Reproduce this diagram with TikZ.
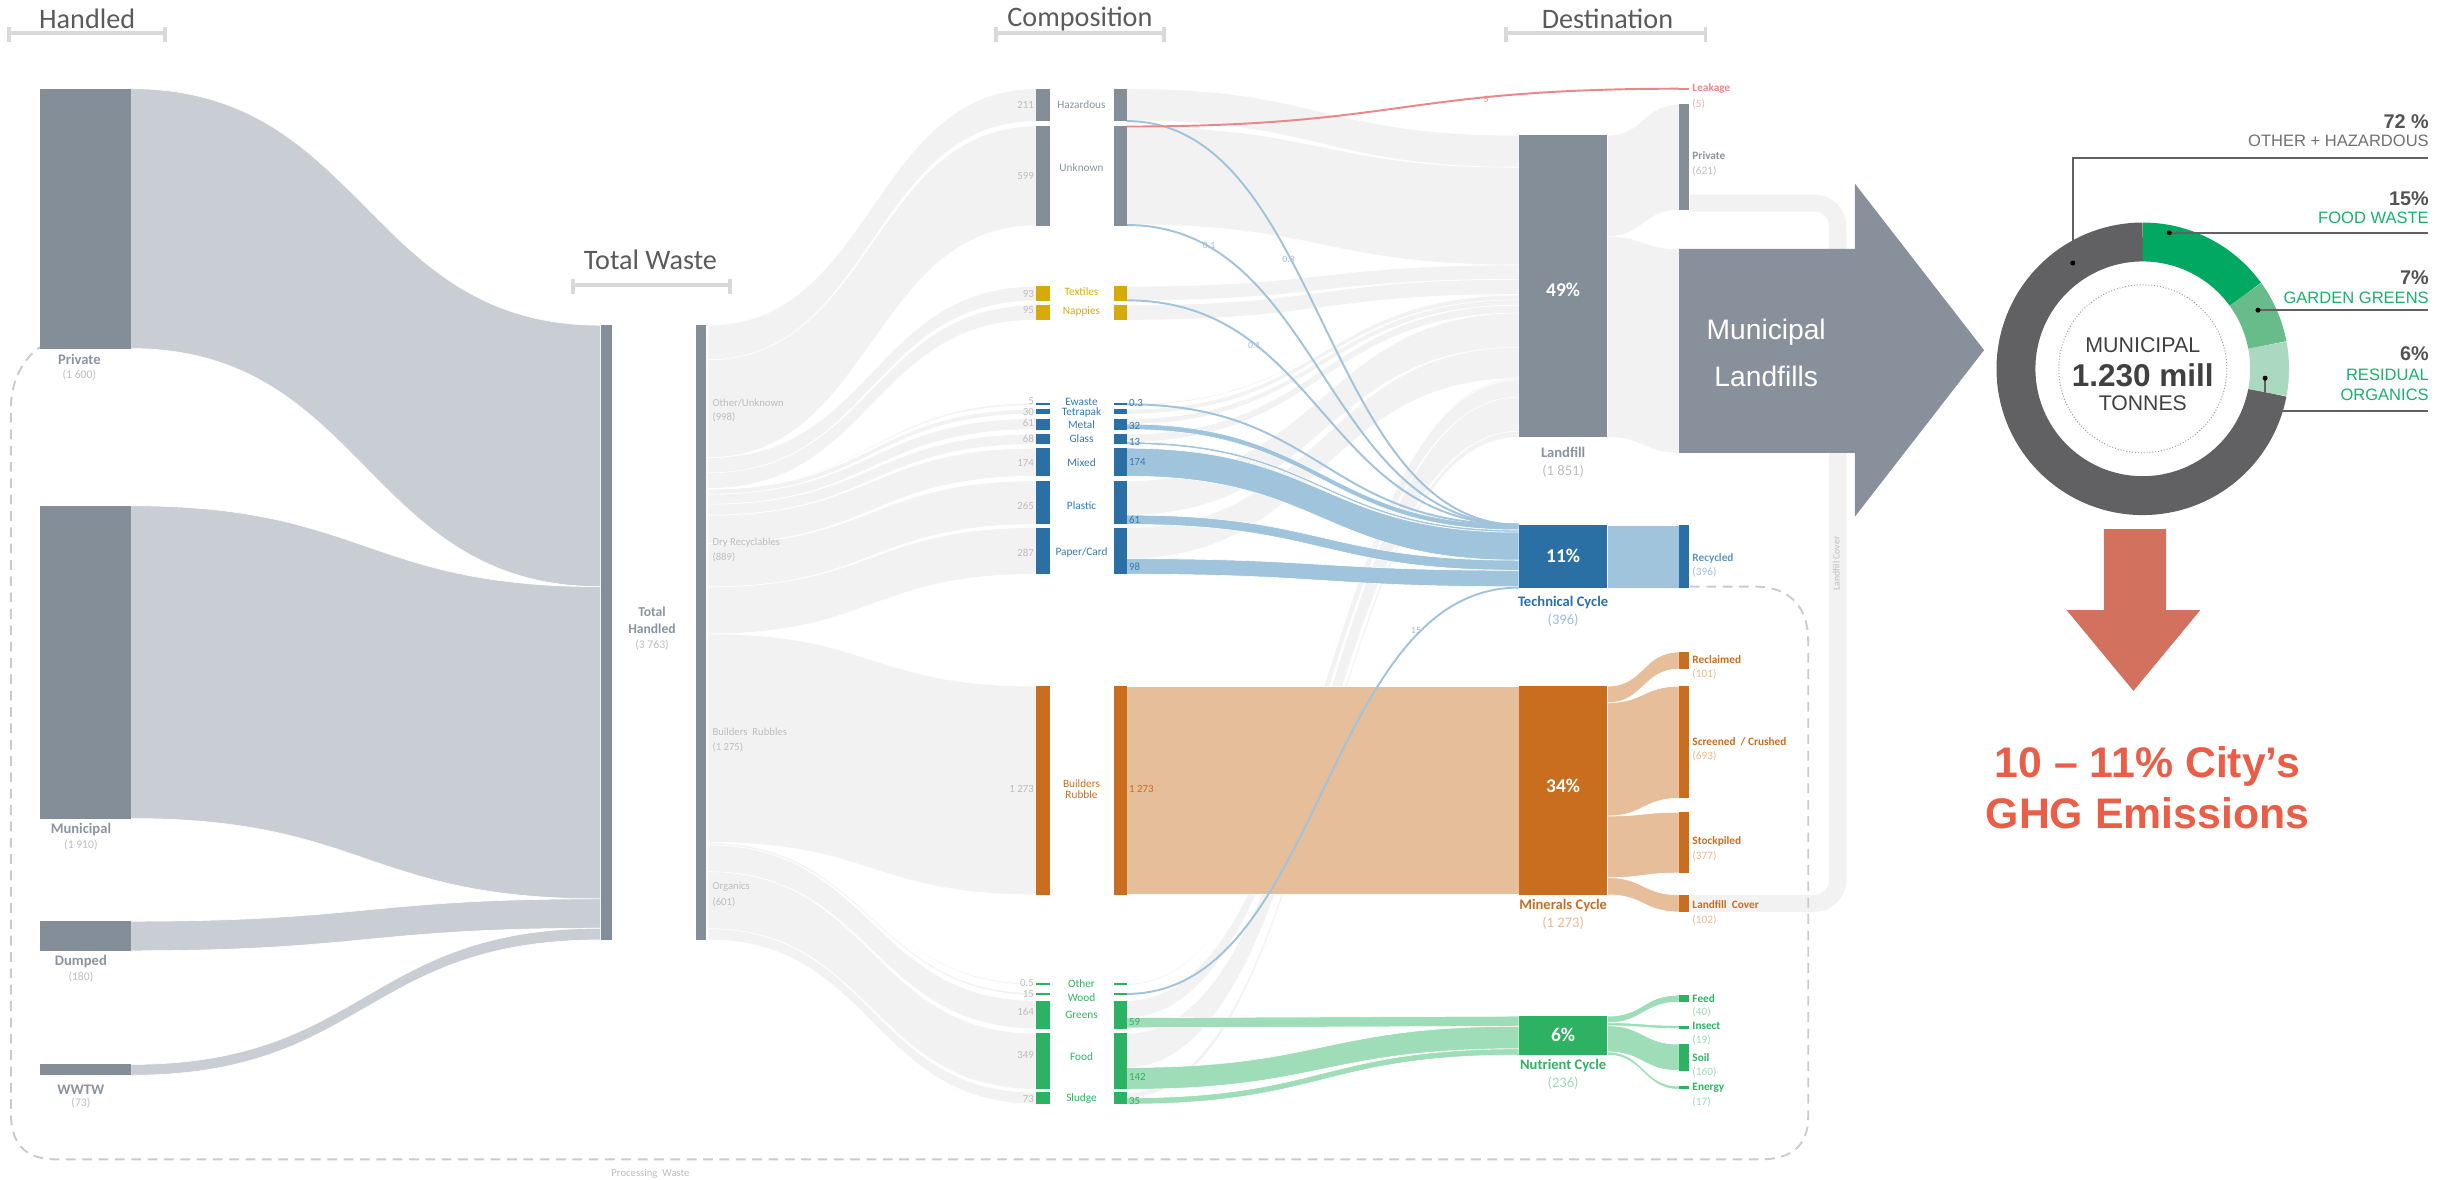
\documentclass[tikz,border=0pt]{standalone}
\usepackage{fontspec}
\setmainfont{Carlito}
\newfontfamily\arialfont{Liberation Sans}
\usepackage{tikz}
\usetikzlibrary{positioning}
\usepackage{xcolor}
\definecolor{slate}{HTML}{848E99}
\definecolor{slatetext}{HTML}{8A949E}
\definecolor{handledflow}{HTML}{C9CED4}
\definecolor{flowlight}{HTML}{F2F2F2}
\definecolor{valuegray}{HTML}{BDBDBD}
\definecolor{gold}{HTML}{D6AA0A}
\definecolor{techblue}{HTML}{2A70A4}
\definecolor{lightblue}{HTML}{A0C4DC}
\definecolor{bluetext}{HTML}{3479B1}
\definecolor{lightbluetext}{HTML}{9CBFDC}
\definecolor{orangebar}{HTML}{C96D1F}
\definecolor{lightorange}{HTML}{E6BE9A}
\definecolor{lightorangetext}{HTML}{E8B98F}
\definecolor{greenbar}{HTML}{2DB263}
\definecolor{lightgreen}{HTML}{9EDDB8}
\definecolor{lightgreentext}{HTML}{9ADBB5}
\definecolor{leakred}{HTML}{E8888A}
\definecolor{titlegray}{HTML}{5B5B5B}
\definecolor{bracketgray}{HTML}{D9D9D9}
\definecolor{dashgray}{HTML}{C8CCD1}
\definecolor{donutdark}{HTML}{616163}
\definecolor{donutfood}{HTML}{00A862}
\definecolor{donutgarden}{HTML}{67BC8A}
\definecolor{donutresid}{HTML}{ABD9BF}
\definecolor{arrowgray}{HTML}{87909B}
\definecolor{arrowred}{HTML}{D3715F}
\definecolor{ghgred}{HTML}{EA5E48}
\definecolor{donuttext}{HTML}{404040}
\definecolor{donutgreen}{HTML}{1BAF6D}
\tikzstyle{coltitle} = [font=\fontsize{14.5}{16}\selectfont, text=titlegray]
\tikzstyle{titlebar} = [line width=2pt, color=bracketgray]
\tikzstyle{srclabel} = [font=\fontsize{7.5}{8.8}\selectfont\bfseries, text=slatetext, inner sep=0.5pt]
\tikzstyle{srcvalue} = [font=\fontsize{6}{7}\selectfont, text=valuegray, inner sep=0.5pt]
\tikzstyle{totlabel} = [font=\fontsize{5.5}{6}\selectfont, text=valuegray, inner sep=0.5pt, anchor=west]
\tikzstyle{complabel} = [font=\fontsize{5.8}{6}\selectfont, inner sep=0.3pt]
\tikzstyle{compnum} = [font=\fontsize{5.6}{6}\selectfont, text=valuegray, inner sep=0.3pt, anchor=east]
\tikzstyle{flownum} = [font=\fontsize{5.6}{6}\selectfont, inner sep=0.3pt, anchor=west]
\tikzstyle{linenum} = [font=\fontsize{5}{6}\selectfont, text=lightbluetext, inner sep=0.3pt]
\tikzstyle{destlabel} = [font=\fontsize{5.8}{6}\selectfont\bfseries, inner sep=0.3pt, anchor=west]
\tikzstyle{destvalue} = [font=\fontsize{5.8}{6}\selectfont, inner sep=0.3pt, anchor=west]
\tikzstyle{cyclelabel} = [font=\fontsize{7.5}{8}\selectfont\bfseries, inner sep=0.5pt]
\tikzstyle{cyclevalue} = [font=\fontsize{7.5}{8}\selectfont, inner sep=0.5pt]
\tikzstyle{pct} = [font=\fontsize{10}{11}\selectfont\bfseries, text=white]
\tikzstyle{lightflow} = [fill=flowlight, draw=white, line width=0.3pt]
\tikzstyle{handled} = [fill=handledflow, draw=white, line width=0.3pt]
\tikzstyle{blueflow} = [fill=lightblue, draw=white, line width=0.3pt]
\tikzstyle{greenflow} = [fill=lightgreen, draw=white, line width=0.3pt]
\tikzstyle{orangeflow} = [fill=lightorange, draw=white, line width=0.3pt]
\tikzstyle{thinblue} = [draw=lightblue, line width=1pt]
\tikzstyle{donutlabel} = [font=\arialfont\fontsize{8.5}{9}\selectfont, inner sep=0pt, anchor=east]
\tikzstyle{donutpct} = [font=\arialfont\fontsize{10.2}{11}\selectfont\bfseries, text=donuttext!90, inner sep=0pt, anchor=east]
\tikzstyle{leader} = [draw=donutdark, line width=1pt]
\newcommand{\flowband}[7]{\fill[#7] (#1,#2) .. controls ({(#1+#4)/2},#2) and ({(#1+#4)/2},#5) .. (#4,#5) -- (#4,#6) .. controls ({(#1+#4)/2},#6) and ({(#1+#4)/2},#3) .. (#1,#3) -- cycle;}
\newcommand{\wastebar}[5]{\fill[#5] (#1,#2) rectangle (#3,#4);}

\begin{document}
\begin{tikzpicture}[x=0.8pt, y=-0.8pt]
\useasboundingbox (0,0) rectangle (1568,758);

% Column titles
\node[coltitle] (tHandled) at (56,12) {Handled};
\draw[titlebar] (6,17.5) -- (6,27) (6,21) -- (106,21) (106,17.5) -- (106,27);
\node[coltitle] (tTotal) at (418,167) {Total Waste};
\draw[titlebar] (368,179) -- (368,189) (368,183) -- (469,183) (469,179) -- (469,189);
\node[coltitle] (tComp) at (694,12) {Composition};
\draw[titlebar] (640,17.5) -- (640,27) (640,21) -- (748,21) (748,17.5) -- (748,27);
\node[coltitle] (tDest) at (1033,12) {Destination};
\draw[titlebar] (968,17.5) -- (968,27) (968,21) -- (1096,21) (1096,17.5) -- (1096,27);

% Landfill cover return band
\draw[draw=flowlight, line width=8.8pt, rounded corners=12pt] (1086,580.5) -- (1181,580.5) -- (1181,130.5) -- (1086,130.5);
\node[font=\fontsize{5}{6}\selectfont, text=valuegray, rotate=90] (lCoverBand) at (1180,362) {Landfill Cover};

% Total -> composition
\flowband{455}{209}{231.2}{666}{57}{78}{lightflow}
\flowband{455}{231.2}{294.1}{666}{81}{145}{lightflow}
\flowband{455}{294.1}{303.9}{666}{184}{193.3}{lightflow}
\flowband{455}{303.9}{313.9}{666}{196}{205.7}{lightflow}
\flowband{455}{313.9}{314.4}{666}{259}{260.5}{lightflow}
\flowband{455}{314.4}{317.6}{666}{263}{266}{lightflow}
\flowband{455}{317.6}{324}{666}{269}{276}{lightflow}
\flowband{455}{324}{331.1}{666}{279}{285.5}{lightflow}
\flowband{455}{331.1}{349.4}{666}{288}{306}{lightflow}
\flowband{455}{349.4}{377.2}{666}{309}{337}{lightflow}
\flowband{455}{377.2}{407.3}{666}{339}{369}{lightflow}
\flowband{455}{407.3}{541.3}{666}{441}{575}{lightflow}
\flowband{455}{541.3}{541.6}{666}{632}{633}{lightflow}
\flowband{455}{541.6}{543}{666}{638}{639.5}{lightflow}
\flowband{455}{543}{560.2}{666}{643}{661}{lightflow}
\flowband{455}{560.2}{596.8}{666}{664}{700}{lightflow}
\flowband{455}{596.8}{604}{666}{702}{709.5}{lightflow}

% Composition -> landfill
\flowband{724}{57}{77.5}{976}{87}{107.5}{lightflow}
\flowband{724}{81.5}{144.3}{976}{107.5}{170.3}{lightflow}
\flowband{724}{184}{193.2}{976}{170.3}{179.5}{lightflow}
\flowband{724}{196}{205.7}{976}{179.5}{189.2}{lightflow}
\flowband{724}{259.5}{260.5}{976}{189.2}{189.7}{lightflow}
\flowband{724}{263}{266}{976}{189.7}{192.7}{lightflow}
\flowband{724}{269}{272.5}{976}{192.7}{196.2}{lightflow}
\flowband{724}{279}{284}{976}{196.2}{201.2}{lightflow}
\flowband{724}{309}{331}{976}{201.2}{223.2}{lightflow}
\flowband{724}{339}{359}{976}{223.2}{243.2}{lightflow}
\flowband{724}{632}{633}{976}{243.2}{244.2}{lightflow}
\flowband{724}{643}{654}{976}{244.2}{255.2}{lightflow}
\flowband{724}{664}{686}{976}{255.2}{277.2}{lightflow}
\flowband{724}{702}{705.5}{976}{277.2}{281}{lightflow}

% Landfill -> private / municipal
\flowband{1033}{87}{152}{1079}{67}{135}{lightflow}
\flowband{1033}{152}{281}{1079}{160}{291}{lightflow}

% Processing waste loop
\draw[dashgray, line width=1pt, dash pattern=on 5pt off 3.4pt] (1086,377) -- (1128,377) .. controls (1150,377) and (1162,390) .. (1162,412) -- (1162,718) .. controls (1162,737) and (1150,745) .. (1132,745) -- (36,745) .. controls (16,745) and (7,735) .. (7,715) -- (7,262) .. controls (7,245) and (15,230) .. (26,223);
\node[font=\fontsize{5.5}{6}\selectfont, text=valuegray] (lProc) at (418,754.5) {Processing~~Waste};

% Handled -> total
\flowband{84}{57}{224}{386}{209}{377}{handled}
\flowband{84}{325}{526}{386}{377}{577.6}{handled}
\flowband{84}{592}{611}{386}{577.6}{596.5}{handled}
\flowband{84}{684}{691}{386}{596.5}{604}{handled}

% Coloured flows
\fill[orangeflow] (724,441) rectangle (976,575);
\flowband{724}{272.5}{276}{976}{337.2}{340.6}{blueflow}
\flowband{724}{284}{285.5}{976}{340.6}{342}{blueflow}
\flowband{724}{288}{306}{976}{342}{360}{blueflow}
\flowband{724}{331}{337}{976}{360}{366.5}{blueflow}
\flowband{724}{359}{369}{976}{366.5}{377}{blueflow}
\flowband{724}{654}{660.5}{976}{653}{659.5}{greenflow}
\flowband{724}{686}{700}{976}{659.5}{674}{greenflow}
\flowband{724}{705.5}{709.5}{976}{674}{678}{greenflow}
\fill[blueflow] (1033,337.5) rectangle (1079,378);
\flowband{1033}{441}{451.6}{1079}{419}{430}{orangeflow}
\flowband{1033}{451.6}{524.4}{1079}{441}{513}{orangeflow}
\flowband{1033}{524.4}{564}{1079}{522}{561}{orangeflow}
\flowband{1033}{564}{575}{1079}{575}{586}{orangeflow}
\flowband{1033}{653}{657.2}{1079}{639.5}{644}{greenflow}
\flowband{1033}{657.2}{659.2}{1079}{659}{661}{greenflow}
\flowband{1033}{659.2}{676}{1079}{671}{688}{greenflow}
\flowband{1033}{676}{678}{1079}{698}{700}{greenflow}

% Thin flows
\draw[thinblue] (724,77.8) .. controls (850,77.8) and (850,337.2) .. (976,337.2);
\draw[thinblue] (724,144.6) .. controls (850,144.6) and (850,337.2) .. (976,337.2);
\draw[thinblue] (724,193) .. controls (850,193) and (850,337.2) .. (976,337.2);
\draw[thinblue] (724,259.8) .. controls (850,259.8) and (850,337.2) .. (976,337.2);
\draw[thinblue] (724,638.7) .. controls (850,638.7) and (850,377.6) .. (976,377.6);
\draw[leakred, line width=1pt] (724,81.3) .. controls (900,81.3) and (900,57) .. (1079,57);
\node[linenum] (n03) at (828,167) {0.3};
\node[linenum] (n01a) at (777,158) {0.1};
\node[linenum] (n01b) at (806,222) {0.1};
\node[linenum] (n15) at (910,405) {15};
\node[linenum, text=leakred] (n5) at (955,64) {5};

% Handled bars
\wastebar{26}{57}{84}{224}{slate}
\wastebar{26}{325}{84}{526}{slate}
\wastebar{26}{592}{84}{611}{slate}
\wastebar{26}{684}{84}{691}{slate}
\node[srclabel] (lPrivate) at (51,231) {Private};
\node[srcvalue] (vPrivate) at (51,241) {(1 600)};
\node[srclabel] (lMunicipal) at (52,533) {Municipal};
\node[srcvalue] (vMunicipal) at (52,543) {(1 910)};
\node[srclabel] (lDumped) at (52,618) {Dumped};
\node[srcvalue] (vDumped) at (52,628) {(180)};
\node[srclabel] (lWWTW) at (52,700) {WWTW};
\node[srcvalue] (vWWTW) at (52,709) {(73)};

% Total bars
\wastebar{386}{209}{393}{604}{slate}
\wastebar{447}{209}{454}{604}{slate}
\node[srclabel, font=\fontsize{7}{8.8}\selectfont\bfseries, align=center] (lTotal) at (419,398.5) {Total\\Handled};
\node[srcvalue] (vTotal) at (419,414.5) {(3 763)};
\node[totlabel] (lOther) at (457,259) {Other/Unknown};
\node[totlabel] (vOther) at (457,268) {(998)};
\node[totlabel] (lDry) at (457,349) {Dry Recyclables};
\node[totlabel] (vDry) at (457,358) {(889)};
\node[totlabel] (lBuild) at (457,470) {Builders~ Rubbles};
\node[totlabel] (vBuild) at (457,480) {(1 275)};
\node[totlabel] (lOrg) at (457,570) {Organics};
\node[totlabel] (vOrg) at (457,580) {(601)};

% Composition bars
\wastebar{666}{57}{675}{78}{slate}        \wastebar{716}{57}{724}{78}{slate}
\wastebar{666}{81}{675}{145}{slate}       \wastebar{716}{81}{724}{145}{slate}
\wastebar{666}{184}{675}{193.3}{gold}     \wastebar{716}{184}{724}{193.3}{gold}
\wastebar{666}{196}{675}{205.7}{gold}     \wastebar{716}{196}{724}{205.7}{gold}
\wastebar{666}{259}{675}{260.5}{techblue} \wastebar{716}{259}{724}{260.5}{techblue}
\wastebar{666}{263}{675}{266}{techblue}   \wastebar{716}{263}{724}{266}{techblue}
\wastebar{666}{269}{675}{276}{techblue}   \wastebar{716}{269}{724}{276}{techblue}
\wastebar{666}{279}{675}{285.5}{techblue} \wastebar{716}{279}{724}{285.5}{techblue}
\wastebar{666}{288}{675}{306}{techblue}   \wastebar{716}{288}{724}{306}{techblue}
\wastebar{666}{309}{675}{337}{techblue}   \wastebar{716}{309}{724}{337}{techblue}
\wastebar{666}{339}{675}{369}{techblue}   \wastebar{716}{339}{724}{369}{techblue}
\wastebar{666}{441}{675}{575}{orangebar}  \wastebar{716}{441}{724}{575}{orangebar}
\wastebar{666}{632}{675}{633}{greenbar}   \wastebar{716}{632}{724}{633}{greenbar}
\wastebar{666}{638}{675}{639.5}{greenbar} \wastebar{716}{638}{724}{639.5}{greenbar}
\wastebar{666}{643}{675}{661}{greenbar}   \wastebar{716}{643}{724}{661}{greenbar}
\wastebar{666}{664}{675}{700}{greenbar}   \wastebar{716}{664}{724}{700}{greenbar}
\wastebar{666}{702}{675}{709.5}{greenbar} \wastebar{716}{702}{724}{709.5}{greenbar}

% Composition labels
\node[complabel, text=slatetext] (cHaz) at (695,67.5) {Hazardous};
\node[complabel, text=slatetext] (cUnk) at (695,108) {Unknown};
\node[complabel, text=gold] (cTex) at (695,187.5) {Textiles};
\node[complabel, text=gold] (cNap) at (695,200.5) {Nappies};
\node[complabel, text=bluetext] (cEw) at (695,258) {Ewaste};
\node[complabel, text=bluetext] (cTet) at (695,265) {Tetrapak};
\node[complabel, text=bluetext] (cMet) at (695,272.6) {Metal};
\node[complabel, text=bluetext] (cGla) at (695,282) {Glass};
\node[complabel, text=bluetext] (cMix) at (695,297.5) {Mixed};
\node[complabel, text=bluetext] (cPla) at (695,325) {Plastic};
\node[complabel, text=bluetext] (cPap) at (695,355) {Paper/Card};
\node[complabel, text=orangebar, align=center] (cBui) at (695,507) {Builders\\Rubble};
\node[complabel, text=greenbar] (cOth) at (695,632) {Other};
\node[complabel, text=greenbar] (cWoo) at (695,641) {Wood};
\node[complabel, text=greenbar] (cGre) at (695,652) {Greens};
\node[complabel, text=greenbar] (cFoo) at (695,679) {Food};
\node[complabel, text=greenbar] (cSlu) at (695,706) {Sludge};

% Composition values
\node[compnum] at (665,67.5) {211};
\node[compnum] at (665,113) {599};
\node[compnum] at (665,189) {93};
\node[compnum] at (665,199) {95};
\node[compnum] at (665,258) {5};
\node[compnum] at (665,265) {30};
\node[compnum] at (665,272) {61};
\node[compnum] at (665,282) {68};
\node[compnum] at (665,297.5) {174};
\node[compnum] at (665,325) {265};
\node[compnum] at (665,355) {287};
\node[compnum] at (665,507) {1 273};
\node[compnum] at (665,632) {0.5};
\node[compnum] at (665,638.5) {15};
\node[compnum] at (665,650) {164};
\node[compnum] at (665,678) {349};
\node[compnum] at (665,706) {73};
\node[flownum, text=bluetext] at (725,259) {0.3};
\node[flownum, text=bluetext] at (725,274) {32};
\node[flownum, text=bluetext] at (725,284) {13};
\node[flownum, text=bluetext] at (725,297) {174};
\node[flownum, text=bluetext] at (725,334) {61};
\node[flownum, text=bluetext] at (725,364) {98};
\node[flownum, text=orangebar] at (725,507) {1 273};
\node[flownum, text=greenbar] at (725,657) {59};
\node[flownum, text=greenbar] at (725,692) {142};
\node[flownum, text=greenbar] at (725,707.5) {35};

% Destination bars
\wastebar{976}{87}{1033}{281}{slate}
\wastebar{976}{337.5}{1033}{378}{techblue}
\wastebar{976}{441}{1033}{575}{orangebar}
\wastebar{976}{653}{1033}{678}{greenbar}
\node[pct] (p49) at (1004.5,186) {49\%};
\node[pct] (p11) at (1004.5,357) {11\%};
\node[pct] (p34) at (1004.5,505) {34\%};
\node[pct] (p6) at (1004.5,665) {6\%};
\node[cyclelabel, text=slatetext] (lLandfill) at (1004.5,291) {Landfill};
\node[cyclevalue, text=valuegray] (vLandfill) at (1004.5,302.7) {(1 851)};
\node[cyclelabel, text=techblue] (lTech) at (1004.5,387.5) {Technical Cycle};
\node[cyclevalue, text=lightbluetext] (vTech) at (1004.5,398.5) {(396)};
\node[cyclelabel, text=orangebar] (lMin) at (1004.5,581.6) {Minerals Cycle};
\node[cyclevalue, text=lightorangetext] (vMin) at (1004.5,593) {(1 273)};
\node[cyclelabel, text=greenbar] (lNut) at (1004.5,685) {Nutrient Cycle};
\node[cyclevalue, text=lightgreentext] (vNut) at (1004.5,696) {(236)};

% Final destinations
\wastebar{1079}{56.3}{1085.5}{57.7}{leakred}
\wastebar{1079}{67}{1085.5}{135}{slate}
\wastebar{1079}{337.5}{1085.5}{378}{techblue}
\wastebar{1079}{419}{1085.5}{430}{orangebar}
\wastebar{1079}{441}{1085.5}{513}{orangebar}
\wastebar{1079}{522}{1085.5}{561}{orangebar}
\wastebar{1079}{575}{1085.5}{586}{orangebar}
\wastebar{1079}{639.5}{1085.5}{644}{greenbar}
\wastebar{1079}{659}{1085.5}{661}{greenbar}
\wastebar{1079}{671}{1085.5}{688}{greenbar}
\wastebar{1079}{698}{1085.5}{700}{greenbar}
\node[destlabel, text=leakred] (dLeak) at (1087,57) {Leakage};
\node[destvalue, text=leakred!70] (vLeak) at (1087,66.7) {(5)};
\node[destlabel, text=slatetext] (dPriv) at (1087,100) {Private};
\node[destvalue, text=valuegray] (vPriv) at (1087,110) {(621)};
\node[destlabel, text=bluetext!80] (dRec) at (1087,358.6) {Recycled};
\node[destvalue, text=lightbluetext] (vRec) at (1087,367.6) {(396)};
\node[destlabel, text=orangebar] (dRecl) at (1087,424) {Reclaimed};
\node[destvalue, text=lightorangetext] (vRecl) at (1087,433) {(101)};
\node[destlabel, text=orangebar] (dScr) at (1087,477) {Screened~ / Crushed};
\node[destvalue, text=lightorangetext] (vScr) at (1087,486) {(693)};
\node[destlabel, text=orangebar] (dSto) at (1087,541) {Stockpiled};
\node[destvalue, text=lightorangetext] (vSto) at (1087,550) {(377)};
\node[destlabel, text=orangebar] (dCov) at (1087,581) {Landfill~ Cover};
\node[destvalue, text=lightorangetext] (vCov) at (1087,591) {(102)};
\node[destlabel, text=greenbar] (dFeed) at (1087,641.6) {Feed};
\node[destvalue, text=lightgreentext] (vFeed) at (1087,650.7) {(40)};
\node[destlabel, text=greenbar] (dIns) at (1087,659.5) {Insect};
\node[destvalue, text=lightgreentext] (vIns) at (1087,668.5) {(19)};
\node[destlabel, text=greenbar] (dSoil) at (1087,679.5) {Soil};
\node[destvalue, text=lightgreentext] (vSoil) at (1087,689) {(160)};
\node[destlabel, text=greenbar] (dEn) at (1087,699) {Energy};
\node[destvalue, text=lightgreentext] (vEn) at (1087,708) {(17)};

% Municipal landfills arrow
\fill[arrowgray] (1079,160) -- (1192,160) -- (1192,118) -- (1275,225) -- (1192,332) -- (1192,291) -- (1079,291) -- cycle;
\node[font=\arialfont\fontsize{14.5}{24}\selectfont, text=white, align=center] (tMuniLand) at (1135,227) {Municipal\\Landfills};

% Municipal composition donut
\begin{scope}[shift={(1377,237)}, yscale=-1]
\draw[donutdark, line width=20pt] (90:81.5) arc[start angle=90, end angle=349.2, radius=81.5];
\draw[donutfood, line width=20pt] (36:81.5) arc[start angle=36, end angle=90, radius=81.5];
\draw[donutgarden, line width=20pt] (10.8:81.5) arc[start angle=10.8, end angle=36, radius=81.5];
\draw[donutresid, line width=20pt] (-10.8:81.5) arc[start angle=-10.8, end angle=10.8, radius=81.5];
\draw[gray!80, densely dotted, line width=0.5pt] (0,0) circle[radius=54];
\end{scope}
\node[font=\arialfont\fontsize{11}{12}\selectfont, text=donuttext] (dMuni) at (1377,221.7) {MUNICIPAL};
\node[font=\arialfont\fontsize{16.2}{17}\selectfont\bfseries, text=donuttext] (dMill) at (1377,241) {1.230 mill};
\node[font=\arialfont\fontsize{10.9}{12}\selectfont, text=donuttext] (dTon) at (1377,259) {TONNES};

% Donut leaders
\draw[leader] (1332,169) -- (1332,101.4) -- (1560.5,101.4);
\draw[leader] (1394,149.6) -- (1560.5,149.6);
\draw[leader] (1451,199.3) -- (1560.5,199.3);
\draw[leader] (1455.6,243) -- (1455.6,264) -- (1560.5,264);
\fill[black] (1332,169) circle[radius=1.6] (1394,149.6) circle[radius=1.6] (1451,199.3) circle[radius=1.6] (1455.6,243) circle[radius=1.6];
\node[donutpct] (k72) at (1561,78.3) {72 \%};
\node[donutlabel, text=donutdark!90] (kOther) at (1561,90.6) {OTHER + HAZARDOUS};
\node[donutpct] (k15) at (1561,128) {15\%};
\node[donutlabel, text=donutgreen] (kFood) at (1561,140) {FOOD WASTE};
\node[donutpct] (k7) at (1561,178.7) {7\%};
\node[donutlabel, text=donutgreen] (kGarden) at (1561,191.5) {GARDEN GREENS};
\node[donutpct] (k6) at (1561,227.5) {6\%};
\node[donutlabel, text=donutgreen] (kResid) at (1561,241) {RESIDUAL};
\node[donutlabel, text=donutgreen] (kOrg) at (1561,254) {ORGANICS};

% Emissions arrow
\fill[arrowred] (1352,340) -- (1392,340) -- (1392,392) -- (1414,392) -- (1371,444) -- (1328,392) -- (1352,392) -- cycle;
\node[font=\arialfont\fontsize{22}{26.4}\selectfont\bfseries, text=ghgred, align=center] (tGHG) at (1380,506) {10 – 11\% City’s\\GHG Emissions};
\end{tikzpicture}
\end{document}
